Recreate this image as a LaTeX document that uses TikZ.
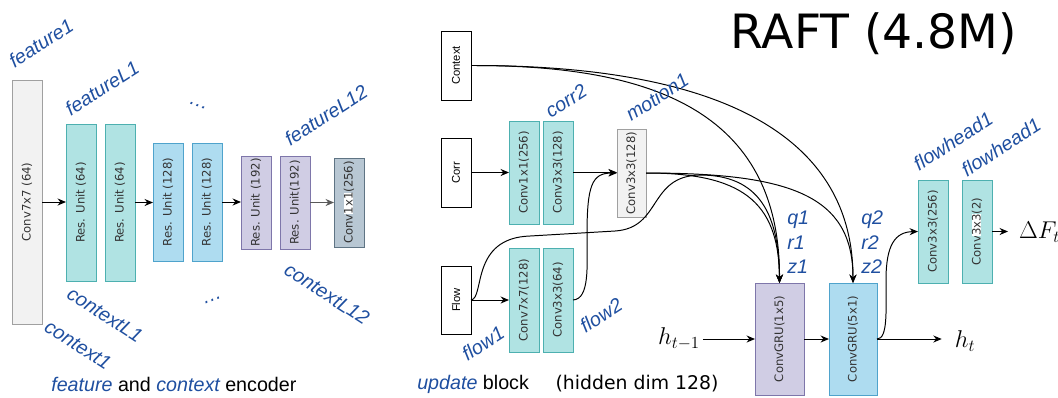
\documentclass[tikz,border=0pt]{standalone}
\usepackage[no-math]{fontspec}
\usepackage{graphicx}
\setmainfont{Liberation Sans}
\newfontfamily\dvs{DejaVu Sans}
\usetikzlibrary{arrows.meta}
\definecolor{lblue}{HTML}{1F4FA0}
\definecolor{tealF}{HTML}{B0E3E3}\definecolor{tealD}{HTML}{4DB0B0}
\definecolor{blueF}{HTML}{AEDCF0}\definecolor{blueD}{HTML}{4FA3CC}
\definecolor{purF}{HTML}{D0CDE4}\definecolor{purD}{HTML}{7E76AA}
\definecolor{grayF}{HTML}{F2F2F2}\definecolor{grayD}{HTML}{A0A0A0}
\definecolor{slateF}{HTML}{B8C7D3}\definecolor{slateD}{HTML}{5F7484}
\definecolor{boxtxt}{HTML}{333333}
\newcommand{\mybox}[7]{\node[#6, minimum width={(#4-#2)*0.025cm}, minimum height={(#5-#3)*0.025cm}] (#1) at ({(#2+#4)/2},{(#3+#5)/2}) {\rotatebox{90}{#7}};}
\newcommand{\whl}[1]{{\setlength{\fboxsep}{0pt}\colorbox{white}{#1}}}
\tikzset{
  blk/.style={draw, line width=0.7pt, inner sep=0pt, outer sep=0pt, text=boxtxt, font=\dvs\fontsize{8.3}{9}\selectfont},
  tealbox/.style={blk, fill=tealF, draw=tealD},
  bluebox/.style={blk, fill=blueF, draw=blueD},
  purbox/.style={blk, fill=purF, draw=purD},
  graybox/.style={blk, fill=grayF, draw=grayD},
  slatebox/.style={blk, fill=slateF, draw=slateD},
  iobox/.style={draw=black, fill=white, line width=0.7pt, inner sep=0pt, outer sep=0pt, text=black, font=\fontsize{8}{9}\selectfont},
  lab/.style={text=lblue, font=\itshape\fontsize{14}{16}\selectfont, inner sep=0pt},
  arr/.style={-{Stealth[length=6pt,width=5pt]}, line width=0.7pt},
  mth/.style={inner sep=2pt, font=\fontsize{16.5}{19}\selectfont},
}
\begin{document}
\begin{tikzpicture}[x=0.025cm,y=-0.025cm]
\useasboundingbox (0,0) rectangle (1058,397);
% encoder
\mybox{c77}{12}{80}{42}{324}{graybox}{Conv7x7 (64)}
\mybox{ra}{66}{124}{96}{281}{tealbox}{Res. Unit (64)}
\mybox{rb}{105}{124}{135}{281}{tealbox}{Res. Unit (64)}
\mybox{rc}{153}{143}{183}{261}{bluebox}{Res. Unit (128)}
\mybox{rd}{192}{143}{222}{261}{bluebox}{Res. Unit (128)}
\mybox{re}{241}{156}{271}{249}{purbox}{Res. Unit (192)}
\mybox{rf}{280}{156}{310}{249}{purbox}{Res. Unit(192)}
\mybox{cf}{334}{158}{364}{247}{slatebox}{Conv\whl{1x1}(256)}
\draw[arr] (c77.east) -- (c77.east -| ra.west);
\draw[arr] (rb.east) -- (rb.east -| rc.west);
\draw[arr] (rd.east) -- (rd.east -| re.west);
\draw[arr, draw=black!65] (rf.east) -- (rf.east -| cf.west);
\node[lab, rotate=33] (l1) at (41,43) {feature1};
\node[lab, rotate=33] (l2) at (102,88) {featureL1};
\node[lab, rotate=33] (l3) at (326,115) {featureL12};
\node[lab, rotate=-33] (l4) at (105,315) {contextL1};
\node[lab, rotate=-33] (l5) at (78,345) {context1};
\node[lab, rotate=-33] (l6) at (327,294) {contextL12};
\node[lab, rotate=-20] (d1) at (198,106) {\dots};
\node[lab, rotate=20] (d2) at (213,300) {\dots};
\node[anchor=west, font=\fontsize{14}{16}\selectfont, inner sep=0pt] (cap1) at (51,384) {\textcolor{lblue}{\itshape feature} and \textcolor{lblue}{\itshape context} encoder};
% update block
\mybox{ctx}{441}{31}{471}{100}{iobox}{Context}
\mybox{corr}{441}{138}{471}{207}{iobox}{Corr}
\mybox{flow}{441}{266}{471}{334}{iobox}{Flow}
\mybox{ca}{509}{121}{539}{224}{tealbox}{Conv1x1(256)}
\mybox{cb}{543}{121}{573}{224}{tealbox}{Conv3x3(128)}
\mybox{mo}{617}{129}{646}{217}{graybox}{Conv3x3(128)}
\mybox{fa}{509}{248}{539}{352}{tealbox}{Conv7x7(128)}
\mybox{fb}{543}{248}{573}{352}{tealbox}{Conv3x3(64)}
\mybox{g1}{755}{283}{804}{395}{purbox}{ConvGRU(1x5)}
\mybox{g2}{829}{283}{877}{395}{bluebox}{ConvGRU(5x1)}
\mybox{h1}{918}{180}{948}{283}{tealbox}{Conv3x3(256)}
\mybox{h2}{962}{180}{992}{283}{tealbox}{Conv\whl{3x3}(2)}
\node[mth] (hp) at (679,339) {$h_{t-1}$};
\node[mth] (ht) at (965,341) {$h_t$};
\node[mth, anchor=west] (df) at (1016,232) {$\Delta F_t$};
\draw[arr] (corr.east) -- (corr.east -| ca.west);
\draw[arr] (cb.east) -- (cb.east -| mo.west);
\draw[arr] (flow.east) -- (flow.east -| fa.west);
\draw[arr] (ctx.east) .. controls (650,65) and (780,110) .. (g1.north);
\draw[arr] (ctx.east) .. controls (700,65) and (853,125) .. (g2.north);
\draw[arr] (mo.east) .. controls (740,173) and (779,200) .. (g1.north);
\draw[arr] (mo.east) .. controls (790,173) and (853,195) .. (g2.north);
\draw[arr] (flow.east) .. controls (485,298) and (470,238) .. (530,236) -- (615,231) .. controls (662,228) and (648,176) .. (700,175) .. controls (760,175) and (779,215) .. (g1.north);
\draw[arr] (fb.east) .. controls (590,299) and (587,265) .. (587,235) .. controls (587,185) and (592,173) .. (mo.west);
\draw[arr] (g2.east) .. controls (888,339) and (886,310) .. (886,280) .. controls (886,245) and (895,232) .. (h1.west);
\draw[arr] (g1.west -| hp.east) -- (g1.west);
\draw[arr] (g1.east) -- (g2.west);
\draw[arr] (g2.east) -- ([xshift=-0.25cm]g2.east -| ht.west);
\draw[arr] (h2.east) -- ([xshift=-0.2cm]h2.east -| df.west);
\node[lab, rotate=33] (l7) at (566,101) {corr2};
\node[lab, rotate=33] (l8) at (657,97) {motion1};
\node[lab, rotate=33] (l9) at (483,343) {flow1};
\node[lab, rotate=33] (l10) at (601,315) {flow2};
\node[lab, rotate=33] (l11) at (953,141) {flowhead1};
\node[lab, rotate=33] (l12) at (1001,147) {flowhead1};
\node[lab, anchor=west] (q1) at (787,220) {q1};
\node[lab, anchor=west] (r1) at (787,243) {r1};
\node[lab, anchor=west] (z1) at (787,267) {z1};
\node[lab, anchor=west] (q2) at (861,220) {q2};
\node[lab, anchor=west] (r2) at (861,243) {r2};
\node[lab, anchor=west] (z2) at (861,267) {z2};
\node[anchor=west, font=\fontsize{14}{16}\selectfont, inner sep=0pt] (cap2) at (417,384) {\textcolor{lblue}{\itshape update} block};
\node[font=\dvs\fontsize{13.4}{16}\selectfont, inner sep=0pt] (cap3) at (637,384) {(hidden dim 128)};
\node[font=\dvs\fontsize{33.6}{40}\selectfont, inner sep=0pt] (title) at (874,34) {RAFT (4.8M)};
\end{tikzpicture}
\end{document}
